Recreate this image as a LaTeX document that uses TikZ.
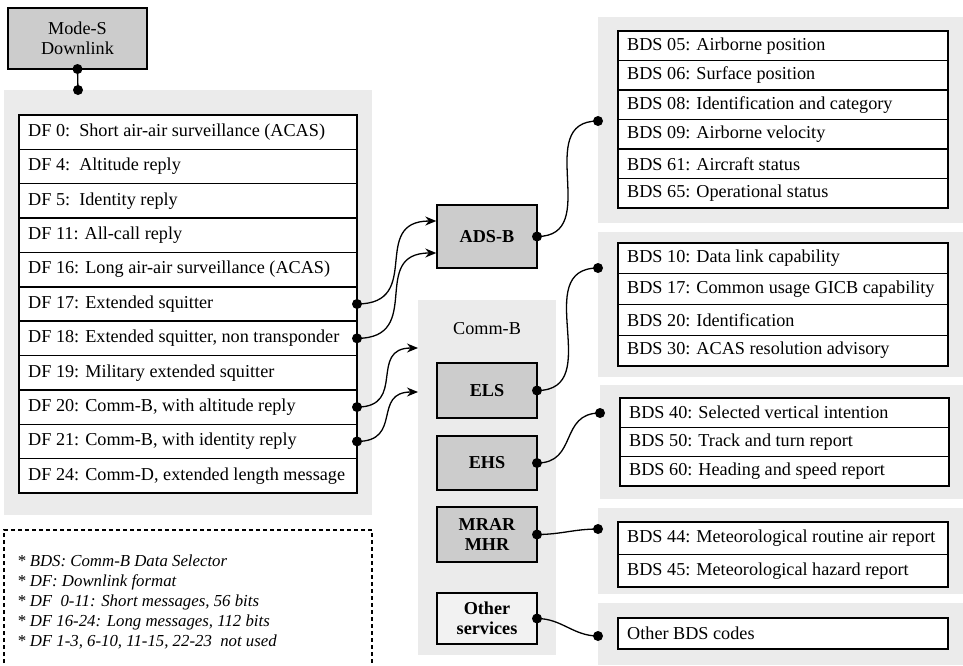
\documentclass[tikz,border=0pt]{standalone}
\usepackage{fontspec}
\setmainfont{Liberation Serif}
\usetikzlibrary{arrows.meta}
\definecolor{panelgray}{HTML}{EBEBEB}
\definecolor{boxgray}{HTML}{CCCCCC}
\definecolor{lightbox}{HTML}{F2F2F2}
\tikzset{
  rowtext/.style={anchor=west, inner sep=0pt, font=\fontsize{18.2}{20}\selectfont},
  svcbox/.style={draw=black, line width=1.4pt, fill=boxgray, minimum width=100pt, minimum height=#1, font=\fontsize{18.2}{20.5}\selectfont\bfseries, align=center, inner sep=0pt},
  dot/.style={circle, fill=black, inner sep=0pt, minimum size=10pt},
  conn/.style={line width=1.3pt, draw=black},
  arr/.style={conn, -{Stealth[length=11pt,width=9pt]}},
  tbl/.style={line width=1.4pt, draw=black},
}
\begin{document}
\begin{tikzpicture}[x=1pt,y=-1pt]
\useasboundingbox (0,0) rectangle (963,665);

% ---------- Mode-S Downlink ----------
\node[draw=black, line width=1.4pt, fill=boxgray, minimum width=139pt, minimum height=61pt,
      align=center, font=\fontsize{18.2}{20.5}\selectfont, inner sep=0pt] (modes) at (77.5,38.5) {Mode-S\\Downlink};

% ---------- DF panel ----------
\fill[panelgray] (4,90) rectangle (372,515);
\coordinate (dfpanel) at (78,90);
\filldraw[tbl, fill=white] (19,115) rectangle (357,493);
\foreach \i in {1,...,10} \draw[tbl] (19,{115+34.36*\i}) -- (357,{115+34.36*\i});
\foreach \i/\t in {0/{DF 0:\ \ Short air-air surveillance (ACAS)},
                   1/{DF 4:\ \ Altitude reply},
                   2/{DF 5:\ \ Identity reply},
                   3/{DF 11: All-call reply},
                   4/{DF 16: Long air-air surveillance (ACAS)},
                   5/{DF 17: Extended squitter},
                   6/{DF 18: Extended squitter, non transponder},
                   7/{DF 19: Military extended squitter},
                   8/{DF 20: Comm-B, with altitude reply},
                   9/{DF 21: Comm-B, with identity reply},
                   10/{DF 24: Comm-D, extended length message}}{
  \node[rowtext] (df\i) at (28,{115+34.36*(\i+0.5)}) {\t};
  \coordinate (dfr\i) at (357,{115+34.36*(\i+0.5)});
}

% ---------- ADS-B ----------
\node[svcbox=63pt] (adsb) at (487,236.5) {ADS-B};

% ---------- Comm-B panel ----------
\fill[panelgray] (418,300) rectangle (556,655);
\node[font=\fontsize{18.2}{20}\selectfont, inner sep=0pt] (commb) at (487,329) {Comm-B};
\coordinate (cbin1) at (418,348);
\coordinate (cbin2) at (418,392);
\node[svcbox=55pt] (els) at (487,390.5) {ELS};
\node[svcbox=54pt] (ehs) at (487,463) {EHS};
\node[svcbox=55pt] (mrar) at (487,534.5) {MRAR\\MHR};
\node[svcbox=51pt, fill=lightbox] (other) at (487,618.5) {Other\\services};

% ---------- Right panels ----------
\fill[panelgray] (598,17) rectangle (963,223);
\filldraw[tbl, fill=white] (618,31) rectangle (948,208);
\foreach \i in {1,...,5} \draw[tbl] (618,{31+29.5*\i}) -- (948,{31+29.5*\i});
\foreach \i/\t in {0/{BDS 05: Airborne position},
                   1/{BDS 06: Surface position},
                   2/{BDS 08: Identification and category},
                   3/{BDS 09: Airborne velocity},
                   4/{BDS 61: Aircraft status},
                   5/{BDS 65: Operational status}}{
  \node[rowtext] (bdsa\i) at (627,{31+29.5*(\i+0.5)}) {\t};
}

\fill[panelgray] (598,232) rectangle (963,377);
\filldraw[tbl, fill=white] (618,243) rectangle (948,366);
\foreach \i in {1,...,3} \draw[tbl] (618,{243+30.75*\i}) -- (948,{243+30.75*\i});
\foreach \i/\t in {0/{BDS 10: Data link capability},
                   1/{BDS 17: Common usage GICB capability},
                   2/{BDS 20: Identification},
                   3/{BDS 30: ACAS resolution advisory}}{
  \node[rowtext] (bdsb\i) at (627,{243+30.75*(\i+0.5)}) {\t};
}

\fill[panelgray] (600,385) rectangle (963,499);
\filldraw[tbl, fill=white] (620,398) rectangle (949,486);
\foreach \i in {1,2} \draw[tbl] (620,{398+29.3*\i}) -- (949,{398+29.3*\i});
\foreach \i/\t in {0/{BDS 40: Selected vertical intention},
                   1/{BDS 50: Track and turn report},
                   2/{BDS 60: Heading and speed report}}{
  \node[rowtext] (bdsc\i) at (629,{398+29.3*(\i+0.5)}) {\t};
}

\fill[panelgray] (598,508) rectangle (963,594);
\filldraw[tbl, fill=white] (618,522) rectangle (948,587);
\draw[tbl] (618,554.5) -- (948,554.5);
\foreach \i/\t in {0/{BDS 44: Meteorological routine air report},
                   1/{BDS 45: Meteorological hazard report}}{
  \node[rowtext] (bdsd\i) at (627,{522+32.5*(\i+0.5)}) {\t};
}

\fill[panelgray] (598,603) rectangle (963,665);
\filldraw[tbl, fill=white] (618,618) rectangle (948,649);
\node[rowtext] (bdse0) at (627,633.5) {Other BDS codes};

% ---------- Notes ----------
\draw[line width=1.3pt, dash pattern=on 4pt off 3pt] (4,670) -- (4,530) -- (372,530) -- (372,670);
\node[anchor=base west, align=left, inner sep=0pt, font=\fontsize{16.8}{20}\selectfont\itshape] (notes) at (17,646)
  {* BDS: Comm-B Data Selector\\
   * DF: Downlink format\\
   * DF\ \ 0-11: Short messages, 56 bits\\
   * DF 16-24: Long messages, 112 bits\\
   * DF 1-3, 6-10, 11-15, 22-23\ \ not used};

% ---------- Dots / anchors ----------
\coordinate (adsbR) at (537,236.5);
\coordinate (elsR) at (537,390.5);
\coordinate (ehsR) at (537,463);
\coordinate (mrarR) at (537,534.5);
\coordinate (otherR) at (537,618.5);
\coordinate (pa) at (598,121);
\coordinate (pb) at (598,268);
\coordinate (pc) at (600,413);
\coordinate (pd) at (598,529);
\coordinate (pe) at (598,636);
\coordinate (modesB) at (77.5,69);

% ---------- Connectors ----------
\draw[conn] (modesB) -- (dfpanel);
\draw[arr] (dfr5) to[out=0,in=180,looseness=1.5] (adsb.west |- 0,221);
\draw[arr] (dfr6) to[out=0,in=180,looseness=1.5] (adsb.west |- 0,253);
\draw[arr] (dfr8) to[out=0,in=180,looseness=1.5] (cbin1);
\draw[arr] (dfr9) to[out=0,in=180,looseness=1.5] (cbin2);
\draw[conn] (adsbR) to[out=0,in=180,looseness=1.3] (pa);
\draw[conn] (elsR) to[out=0,in=180,looseness=1.3] (pb);
\draw[conn] (ehsR) to[out=0,in=180,looseness=1.3] (pc);
\draw[conn] (mrarR) to[out=0,in=180] (pd);
\draw[conn] (otherR) to[out=0,in=180] (pe);

\foreach \p in {modesB, dfpanel, dfr5, dfr6, dfr8, dfr9, adsbR, elsR, ehsR, mrarR, otherR, pa, pb, pc, pd, pe}
  \node[dot] at (\p) {};
\end{tikzpicture}
\end{document}
